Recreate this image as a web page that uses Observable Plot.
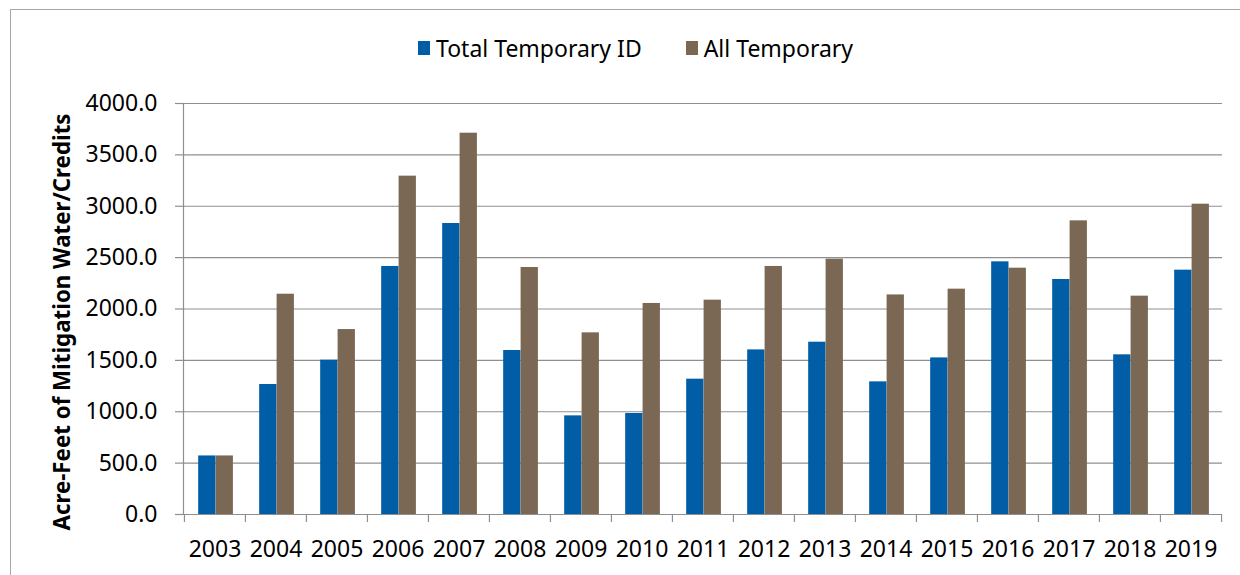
<!DOCTYPE html>
<html><head><meta charset="utf-8">
<script src="https://cdn.jsdelivr.net/npm/d3@7"></script>
<script src="https://cdn.jsdelivr.net/npm/@observablehq/plot@0.6"></script>
<style>
body{margin:0;background:#fff;}
#wrap{position:relative;width:1240px;height:575px;overflow:hidden;font-family:"Noto Sans",sans-serif;background:#fff;}
#frame{position:absolute;left:10px;top:9px;width:1300px;height:700px;border-left:1px solid #a6a6a6;border-top:1px solid #a6a6a6;}
#legend{position:absolute;top:32px;left:418px;display:flex;align-items:center;font-size:23px;color:#000;white-space:nowrap;}
#legend .item{display:flex;align-items:center;margin-right:44px;}
#legend .sw{display:inline-block;width:12px;height:14px;margin-right:6px;}
#chart{position:absolute;left:0;top:80px;}
</style></head><body>
<div id="wrap"><div id="frame"></div><div id="legend"></div><div id="chart"></div></div>
<script>
const years = ["2003","2004","2005","2006","2007","2008","2009","2010","2011","2012","2013","2014","2015","2016","2017","2018","2019"];
const totalTemporaryID = [570,1265,1502,2414,2832,1596,960,983,1317,1602,1677,1291,1524,2459,2287,1554,2378];
const allTemporary = [570,2144,1800,3293,3711,2404,1768,2054,2086,2414,2485,2137,2193,2397,2858,2125,3020];
const seriesNames = ["Total Temporary ID","All Temporary"];
const seriesColors = ["#005da6","#7b6854"];
const yTicks = [0,500,1000,1500,2000,2500,3000,3500,4000];
const yTitle = "Acre-Feet of Mitigation Water/Credits";

const rows = years.map((y,i)=>({year:y, id:totalTemporaryID[i], all:allTemporary[i]}));

const W = 1240, H = 495, mL = 183, mR = 18, mT = 23, mB = 61;
const bw = (W - mL - mR) / years.length;
const barW = 0.285 * bw;
const lead = 0.232 * bw;
const grid = "#8f8f8f";

const chart = Plot.plot({
  width: W, height: H,
  marginLeft: mL, marginRight: mR, marginTop: mT, marginBottom: mB,
  style: {fontFamily: "'Noto Sans', sans-serif", fontSize: "23px", color: "#000", background: "transparent", overflow: "visible"},
  x: {type: "band", domain: years, padding: 0, axis: null},
  y: {domain: [0, 4000], axis: null},
  marks: [
    Plot.gridY(yTicks, {stroke: grid, strokeOpacity: 1, strokeWidth: 1.2}),
    Plot.axisY({ticks: yTicks, tickSize: 8, tickPadding: 18, tickFormat: d3.format(".1f"), label: null, stroke: grid, strokeWidth: 1.2, fontSize: 23}),
    Plot.frame({anchor: "left", stroke: grid, strokeWidth: 1.2}),
    Plot.barY(rows, {x: "year", y: "id", fill: seriesColors[0], insetLeft: lead, insetRight: bw - lead - barW}),
    Plot.barY(rows, {x: "year", y: "all", fill: seriesColors[1], insetLeft: lead + barW, insetRight: bw - lead - 2 * barW}),
    Plot.axisX({tickSize: 0, tickPadding: 26, label: null, fontSize: 23}),
    Plot.axisX({tickSize: 8, text: null, tickFormat: () => "", label: null, dx: -bw / 2, stroke: grid, strokeWidth: 1.2}),
    Plot.axisX({ticks: [years[years.length - 1]], tickSize: 8, text: null, tickFormat: () => "", label: null, dx: bw / 2, stroke: grid, strokeWidth: 1.2}),
    Plot.text([yTitle], {frameAnchor: "left", textAnchor: "middle", rotate: -90, dx: 62 - mL, dy: 13, fontWeight: "bold", fontSize: 22.3, fill: "#000"})
  ]
});
document.getElementById("chart").appendChild(chart);

const legend = document.getElementById("legend");
seriesNames.forEach((name, i) => {
  const item = document.createElement("span");
  item.className = "item";
  const sw = document.createElement("span");
  sw.className = "sw";
  sw.style.background = seriesColors[i];
  item.appendChild(sw);
  item.appendChild(document.createTextNode(name));
  legend.appendChild(item);
});
</script>
</body></html>
